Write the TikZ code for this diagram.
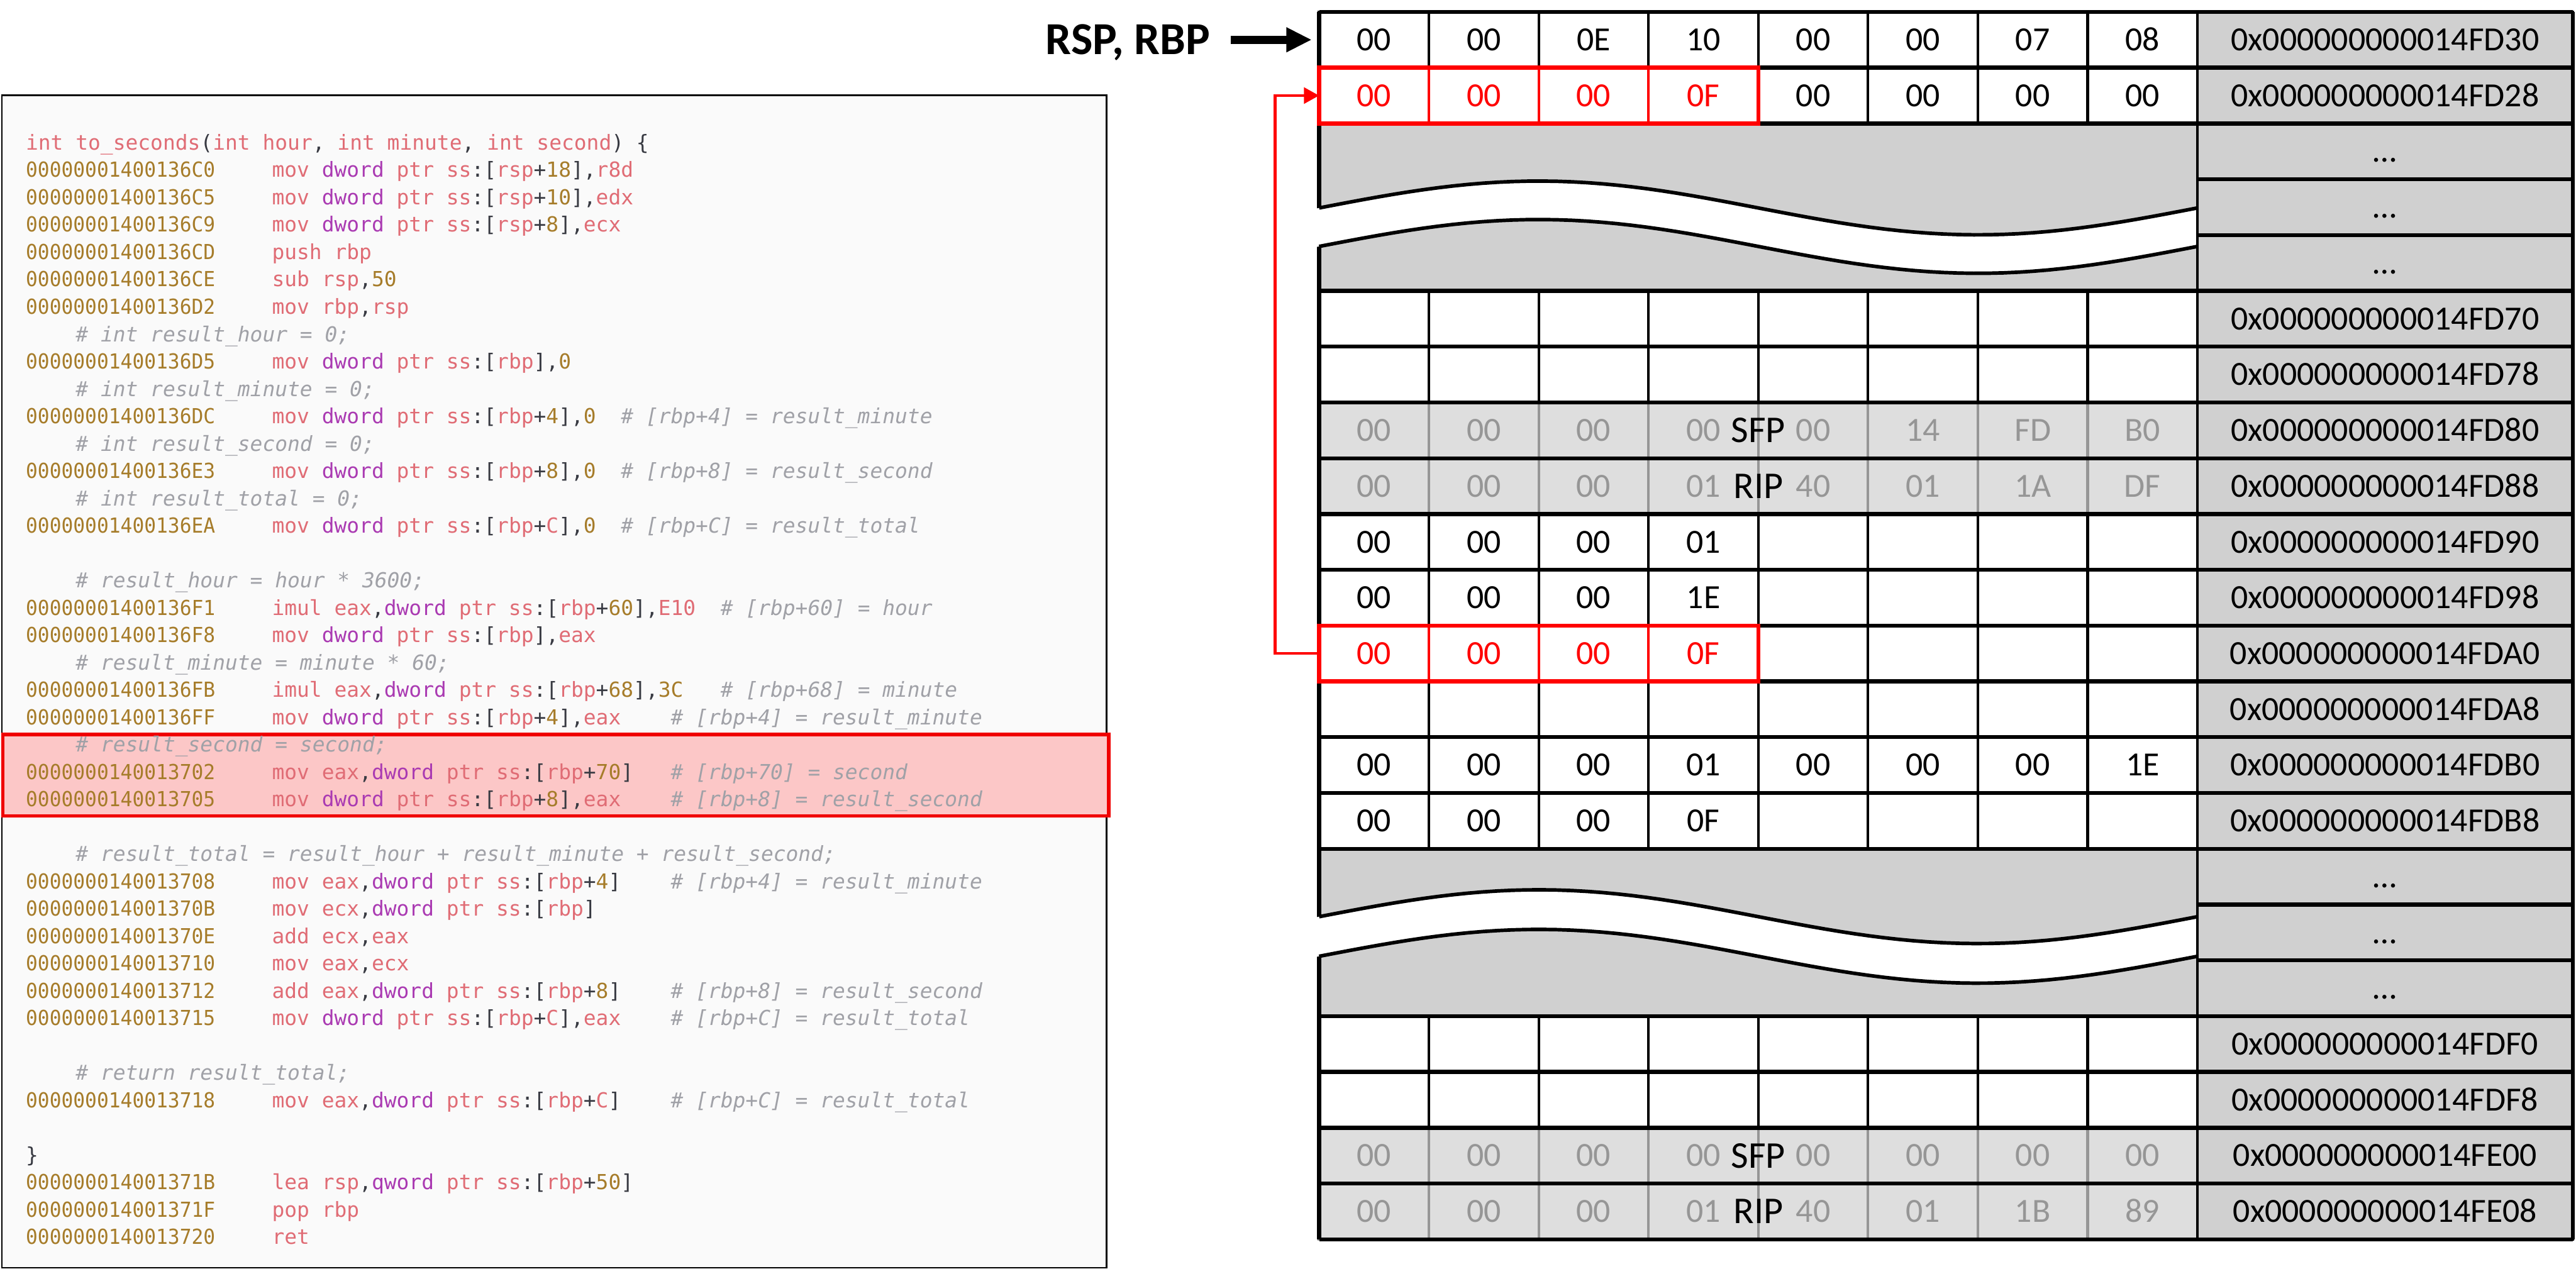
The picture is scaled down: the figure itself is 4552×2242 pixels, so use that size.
\documentclass[tikz,border=0pt]{standalone}
\usepackage{fontspec}
\setmainfont{Carlito}
\newfontfamily\asmfont{DejaVu Sans Mono}
\usetikzlibrary{arrows.meta, positioning}

\definecolor{asmred}{RGB}{224,108,117}
\definecolor{asmpurple}{RGB}{170,58,178}
\definecolor{asmgold}{RGB}{166,124,42}
\definecolor{asmgray}{RGB}{160,161,167}
\definecolor{asmdark}{RGB}{56,58,66}
\definecolor{panelfill}{RGB}{250,250,250}
\definecolor{hlfill}{RGB}{252,199,199}
\definecolor{hlred}{RGB}{240,0,0}
\definecolor{addrfill}{RGB}{208,208,208}
\definecolor{ghostfill}{RGB}{222,222,222}
\definecolor{ghostline}{RGB}{150,150,150}
\definecolor{ghosttext}{RGB}{150,150,150}

\newcommand\opc[1]{\textcolor{asmred}{#1}}
\newcommand\tyc[1]{\textcolor{asmpurple}{#1}}
\newcommand\numc[1]{\textcolor{asmgold}{#1}}
\newcommand\cmtc[1]{\textcolor{asmgray}{\itshape #1}}
\newcommand\addrc[1]{\makebox[123.7pt][l]{\textcolor{asmgold}{\scalebox{0.95}[1]{#1}}}}

\begin{document}
\begin{tikzpicture}[x=0.01cm, y=-0.01cm,
    cell/.style={draw, line width=1.3pt, fill=white, minimum width=1.94cm, minimum height=0.986cm,
      inner sep=0pt, outer sep=0pt, font=\fontsize{17pt}{20pt}\selectfont, text height=10.9pt, text depth=0pt},
    ghost/.style={cell, fill=ghostfill, draw=ghostline, text=ghosttext},
    hot/.style={cell, draw=red, text=red},
    addr/.style={cell, fill=addrfill, minimum width=6.63cm},
    tag/.style={inner sep=0pt, font=\fontsize{19pt}{22pt}\selectfont, text height=12.2pt, text depth=0pt},
    hline/.style={line width=2pt},
    wavy/.style={line width=1.8pt},
    panel/.style={draw, line width=0.8pt, fill=panelfill, minimum width=19.51cm, minimum height=20.71cm, inner sep=0pt, anchor=north west},
    hilite/.style={draw=hlred, line width=1.7pt, fill=hlfill, minimum width=19.53cm, minimum height=1.44cm, inner sep=0pt, anchor=north west},
    codeline/.style={anchor=base west, inner sep=0pt, text=asmdark, font=\asmfont\fontsize{10.4pt}{12pt}\selectfont},
    reg/.style={inner sep=0pt, font=\bfseries\fontsize{23pt}{26pt}\selectfont, text height=14.8pt, text depth=0pt},
    regarrow/.style={-{Triangle[length=12.8pt, width=11.7pt]}, line width=4pt},
    backref/.style={red, line width=1.4pt, -{Triangle[length=7.6pt, width=8pt]}}
  ]
  \useasboundingbox (0,0) rectangle (4552,2242);

  % listing
  \node[panel] (listing) at (2,167) {};
  \node[hilite] (hl) at (2,1295) {};
  \foreach \codetext [count=\lnum] in {
    {\opc{int to\_seconds}(\opc{int hour}, \opc{int minute}, \opc{int second}) \{},
    {\addrc{00000001400136C0}\opc{mov} \tyc{dword} \opc{ptr ss}:[\opc{rsp}+\numc{18}],\opc{r8d}},
    {\addrc{00000001400136C5}\opc{mov} \tyc{dword} \opc{ptr ss}:[\opc{rsp}+\numc{10}],\opc{edx}},
    {\addrc{00000001400136C9}\opc{mov} \tyc{dword} \opc{ptr ss}:[\opc{rsp}+\numc{8}],\opc{ecx}},
    {\addrc{00000001400136CD}\opc{push rbp}},
    {\addrc{00000001400136CE}\opc{sub rsp},\numc{50}},
    {\addrc{00000001400136D2}\opc{mov rbp},\opc{rsp}},
    {~~~~\cmtc{\# int result\_hour = 0;}},
    {\addrc{00000001400136D5}\opc{mov} \tyc{dword} \opc{ptr ss}:[\opc{rbp}],\numc{0}},
    {~~~~\cmtc{\# int result\_minute = 0;}},
    {\addrc{00000001400136DC}\opc{mov} \tyc{dword} \opc{ptr ss}:[\opc{rbp}+\numc{4}],\numc{0}~~\cmtc{\# [rbp+4] = result\_minute}},
    {~~~~\cmtc{\# int result\_second = 0;}},
    {\addrc{00000001400136E3}\opc{mov} \tyc{dword} \opc{ptr ss}:[\opc{rbp}+\numc{8}],\numc{0}~~\cmtc{\# [rbp+8] = result\_second}},
    {~~~~\cmtc{\# int result\_total = 0;}},
    {\addrc{00000001400136EA}\opc{mov} \tyc{dword} \opc{ptr ss}:[\opc{rbp}+\opc{C}],\numc{0}~~\cmtc{\# [rbp+C] = result\_total}},
    {},
    {~~~~\cmtc{\# result\_hour = hour * 3600;}},
    {\addrc{00000001400136F1}\opc{imul eax},\tyc{dword} \opc{ptr ss}:[\opc{rbp}+\numc{60}],\opc{E10}~~\cmtc{\# [rbp+60] = hour}},
    {\addrc{00000001400136F8}\opc{mov} \tyc{dword} \opc{ptr ss}:[\opc{rbp}],\opc{eax}},
    {~~~~\cmtc{\# result\_minute = minute * 60;}},
    {\addrc{00000001400136FB}\opc{imul eax},\tyc{dword} \opc{ptr ss}:[\opc{rbp}+\numc{68}],\numc{3C}~~~\cmtc{\# [rbp+68] = minute}},
    {\addrc{00000001400136FF}\opc{mov} \tyc{dword} \opc{ptr ss}:[\opc{rbp}+\numc{4}],\opc{eax}~~~~\cmtc{\# [rbp+4] = result\_minute}},
    {~~~~\cmtc{\# result\_second = second;}},
    {\addrc{0000000140013702}\opc{mov eax},\tyc{dword} \opc{ptr ss}:[\opc{rbp}+\numc{70}]~~~\cmtc{\# [rbp+70] = second}},
    {\addrc{0000000140013705}\opc{mov} \tyc{dword} \opc{ptr ss}:[\opc{rbp}+\numc{8}],\opc{eax}~~~~\cmtc{\# [rbp+8] = result\_second}},
    {},
    {~~~~\cmtc{\# result\_total = result\_hour + result\_minute + result\_second;}},
    {\addrc{0000000140013708}\opc{mov eax},\tyc{dword} \opc{ptr ss}:[\opc{rbp}+\numc{4}]~~~~\cmtc{\# [rbp+4] = result\_minute}},
    {\addrc{000000014001370B}\opc{mov ecx},\tyc{dword} \opc{ptr ss}:[\opc{rbp}]},
    {\addrc{000000014001370E}\opc{add ecx},\opc{eax}},
    {\addrc{0000000140013710}\opc{mov eax},\opc{ecx}},
    {\addrc{0000000140013712}\opc{add eax},\tyc{dword} \opc{ptr ss}:[\opc{rbp}+\numc{8}]~~~~\cmtc{\# [rbp+8] = result\_second}},
    {\addrc{0000000140013715}\opc{mov} \tyc{dword} \opc{ptr ss}:[\opc{rbp}+\opc{C}],\opc{eax}~~~~\cmtc{\# [rbp+C] = result\_total}},
    {},
    {~~~~\cmtc{\# return result\_total;}},
    {\addrc{0000000140013718}\opc{mov eax},\tyc{dword} \opc{ptr ss}:[\opc{rbp}+\opc{C}]~~~~\cmtc{\# [rbp+C] = result\_total}},
    {},
    {\}},
    {\addrc{000000014001371B}\opc{lea rsp},\tyc{qword} \opc{ptr ss}:[\opc{rbp}+\numc{50}]},
    {\addrc{000000014001371F}\opc{pop rbp}},
    {\addrc{0000000140013720}\opc{ret}}}
    \node[codeline] (line-\lnum) at (45,{265+48.35*(\lnum-1)}) {\codetext};

  % stack cells
  \foreach \row/\bytes in {0/{00,00,0E,10,00,00,07,08}, 1/{00,00,00,0F,00,00,00,00},
      5/{{},{},{},{},{},{},{},{}}, 6/{{},{},{},{},{},{},{},{}},
      9/{00,00,00,01,{},{},{},{}}, 10/{00,00,00,1E,{},{},{},{}}, 11/{00,00,00,0F,{},{},{},{}},
      12/{{},{},{},{},{},{},{},{}}, 13/{00,00,00,01,00,00,00,1E}, 14/{00,00,00,0F,{},{},{},{}},
      18/{{},{},{},{},{},{},{},{}}, 19/{{},{},{},{},{},{},{},{}}}
    \foreach \byte [count=\col from 0] in \bytes
      \node[cell] (c-\row-\col) at ({2428+194*\col},{70.3+98.6*\row}) {\byte};
  \foreach \row/\bytes in {7/{00,00,00,00,00,14,FD,B0}, 8/{00,00,00,01,40,01,1A,DF},
      20/{00,00,00,00,00,00,00,00}, 21/{00,00,00,01,40,01,1B,89}}
    \foreach \byte [count=\col from 0] in \bytes
      \node[ghost] (c-\row-\col) at ({2428+194*\col},{70.3+98.6*\row}) {\byte};
  \draw[hline] (2331,21) -- (2331,2190.2);

  % skipped parts of the stack
  \foreach \wy/\wm/\wg in {218.2/367.5/68, 1499.8/1620/70} {
    \fill[addrfill] (2335,\wy) rectangle (3883,{\wy+295.8});
    \fill[white] plot[domain=-0.008:1, samples=60, variable=\t] ({2331+1552*\t},{\wm-47.5*sin(360*\t)})
      -- plot[domain=1:-0.008, samples=60, variable=\t] ({2331+1552*\t},{\wm+\wg-47.5*sin(360*\t)}) -- cycle;
    \draw[wavy] plot[domain=0:1, samples=60, variable=\t] ({2331+1552*\t},{\wm-47.5*sin(360*\t)});
    \draw[wavy] plot[domain=0:1, samples=60, variable=\t] ({2331+1552*\t},{\wm+\wg-47.5*sin(360*\t)});
  }

  % addresses
  \foreach \row/\addr in {0/FD30, 1/FD28, 5/FD70, 6/FD78, 7/FD80, 8/FD88, 9/FD90, 10/FD98,
      11/FDA0, 12/FDA8, 13/FDB0, 14/FDB8, 18/FDF0, 19/FDF8, 20/FE00, 21/FE08}
    \node[addr] (a-\row) at (4214.5,{70.3+98.6*\row}) {0x000000000014\addr};
  \foreach \row in {2,3,4,15,16,17}
    \node[addr] (a-\row) at (4214.5,{70.3+98.6*\row}) {\ldots};

  \foreach \b in {0,1,2,5,6,7,8,9,10,11,12,13,14,15,18,19,20,21,22}
    \draw[hline] (2331,{21+98.6*\b}) -- (4546,{21+98.6*\b});
  \foreach \b in {3,4,16,17}
    \draw[hline] (3883,{21+98.6*\b}) -- (4546,{21+98.6*\b});
  \draw[hline] (4546,21) -- (4546,2190.2);

  \foreach \row/\tagtext in {7/SFP, 8/RIP, 20/SFP, 21/RIP}
    \node[tag] (tag-\row) at (c-\row-3.east) {\tagtext};

  % result_second
  \foreach \row in {1,11} {
    \foreach \byte [count=\col from 0] in {00,00,00,0F}
      \node[hot] (h-\row-\col) at (c-\row-\col) {\byte};
    \draw[red, line width=2pt] (c-\row-0.north west) rectangle (c-\row-3.south east);
  }
  \draw[backref] (c-11-0.west) -- ++(-78,0) |- (c-1-0.west);

  \node[reg, left=1.92cm of c-0-0] (rsp) {RSP, RBP};
  \draw[regarrow, shorten <=0.36cm, shorten >=0.13cm] (rsp) -- (c-0-0);
\end{tikzpicture}
\end{document}
